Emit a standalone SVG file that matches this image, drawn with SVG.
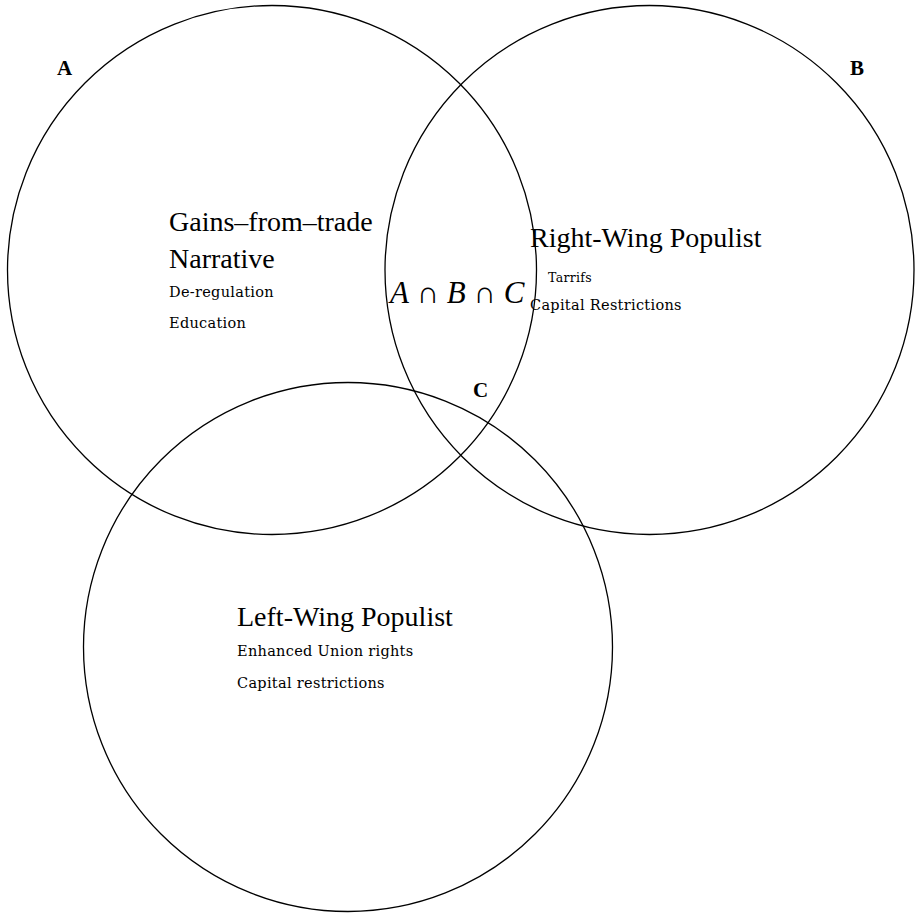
<svg xmlns="http://www.w3.org/2000/svg" width="918" height="913" viewBox="0 0 918 913">
<style>
.c{fill:none;stroke:#000;stroke-width:1.3}
.big{font-family:"Liberation Serif","Times New Roman",serif;font-size:28px;fill:#000}
.sm{font-family:"DejaVu Serif",serif;font-size:14.5px;letter-spacing:0.3px;fill:#000}
.lab{font-family:"Liberation Serif",serif;font-size:21px;font-weight:bold;fill:#000}
.math{font-family:"Liberation Serif",serif;font-size:31px;fill:#000}
</style>
<rect width="918" height="913" fill="#fff"/>
<g id="A">
<circle class="c" cx="272" cy="270" r="264.5"/>
<text class="lab" x="57" y="75">A</text>
<text class="big" x="169" y="231">Gains–from–trade</text>
<text class="big" x="169" y="268">Narrative</text>
<text class="sm" x="169" y="297">De-regulation</text>
<text class="sm" x="169" y="328">Education</text>
</g>
<g id="B">
<circle class="c" cx="649.5" cy="270" r="264.5"/>
<text class="lab" x="850" y="75">B</text>
<text class="big" x="530" y="247">Right-Wing Populist</text>
<text class="sm" x="548" y="282" style="font-size:12.5px">Tarrifs</text>
<text class="sm" x="530" y="310">Capital Restrictions</text>
</g>
<g id="C">
<circle class="c" cx="348" cy="647" r="264.5"/>
<text class="lab" x="473" y="397">C</text>
<text class="big" x="237" y="626">Left-Wing Populist</text>
<text class="sm" x="237" y="656">Enhanced Union rights</text>
<text class="sm" x="237" y="688">Capital restrictions</text>
</g>
<g id="ABC">
<text class="math" x="390" y="303"><tspan font-style="italic">A</tspan> ∩ <tspan font-style="italic">B</tspan> ∩ <tspan font-style="italic">C</tspan></text>
</g>
<g id="connectors"></g>
</svg>
